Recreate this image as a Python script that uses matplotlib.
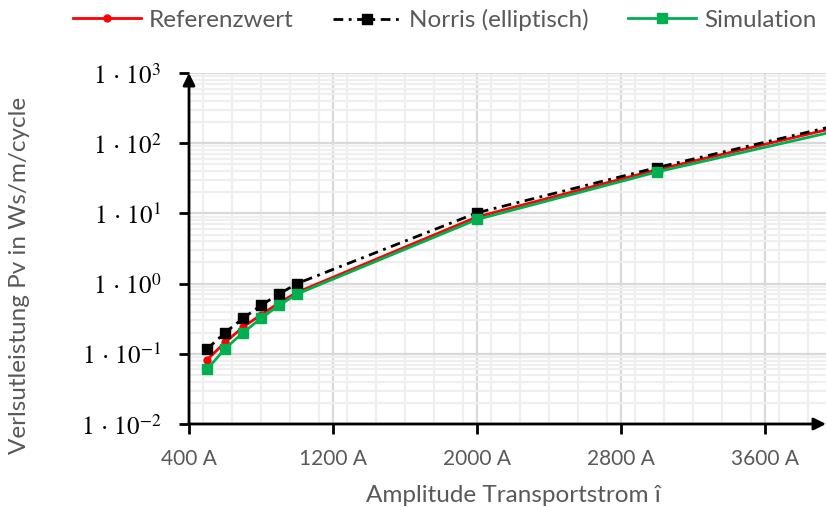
import matplotlib
matplotlib.use("Agg")
import matplotlib.pyplot as plt
from matplotlib.ticker import FixedLocator, MultipleLocator, LogLocator, NullFormatter

# Verlustleistung über Amplitude des Transportstroms
current = [500, 600, 700, 800, 900, 1000, 2000, 3000, 4000]
referenz = [0.082, 0.145, 0.24, 0.36, 0.53, 0.75, 8.9, 42, 168]
norris = [0.117, 0.20, 0.32, 0.49, 0.71, 1.0, 10.2, 45, 180]
simulation = [0.060, 0.118, 0.20, 0.32, 0.49, 0.71, 8.2, 39, 150]

x_ticks = [400, 1200, 2000, 2800, 3600]
x_ticklabels = ["400 A", "1200 A", "2000 A", "2800 A", "3600 A"]
y_ticks = [1e-2, 1e-1, 1e0, 1e1, 1e2, 1e3]
y_ticklabels = [r"$1\,\cdot\,10^{-2}$", r"$1\,\cdot\,10^{-1}$", r"$1\,\cdot\,10^{0}$",
                r"$1\,\cdot\,10^{1}$", r"$1\,\cdot\,10^{2}$", r"$1\,\cdot\,10^{3}$"]

plt.rcParams["font.family"] = "Lato"
plt.rcParams["mathtext.fontset"] = "stix"
grey = "#595959"
fs = 17.5

W, H = 827, 507
fig = plt.figure(figsize=(W / 100, H / 100), dpi=100)
ax = fig.add_axes([189 / W, 1 - 424 / H, (826 - 189) / W, (424 - 73) / H])

ax.set_yscale("log")
ax.set_xlim(400, 400 + (826 - 189) / 0.18)
ax.set_ylim(1e-2, 1e3)

# gitter
ax.xaxis.set_major_locator(FixedLocator(x_ticks))
ax.xaxis.set_minor_locator(MultipleLocator(160))
ax.yaxis.set_major_locator(FixedLocator(y_ticks))
ax.yaxis.set_minor_locator(LogLocator(base=10, subs=range(2, 10)))
ax.yaxis.set_minor_formatter(NullFormatter())
ax.grid(which="minor", color="#efefef", lw=1.6)
ax.grid(which="major", color="#d9d9d9", lw=1.6)
ax.set_axisbelow(True)

l_ref, = ax.plot(current, referenz, color="#ff0000", lw=2.0, marker="o", ms=5,
                 zorder=3)
l_nor, = ax.plot(current, norris, color="black", lw=2.0, dashes=(3.5, 2, 1, 2),
                 marker="s", ms=6.5, zorder=3)
l_sim, = ax.plot(current, simulation, color="#00b050", lw=2.0, marker="s", ms=6.5,
                 zorder=4)

ax.set_xticks(x_ticks)
ax.set_xticklabels(x_ticklabels, color=grey, fontsize=15)
ax.set_yticks(y_ticks)
ax.set_yticklabels(y_ticklabels, fontsize=18)
ax.tick_params(axis="both", which="major", direction="out", length=7, width=2,
               color="black")
ax.tick_params(axis="x", pad=11)
ax.tick_params(axis="y", pad=13)
ax.tick_params(axis="both", which="minor", length=0)

for s in ax.spines.values():
    s.set_visible(False)

# achsen mit pfeilen
arrow = dict(arrowstyle="-|>", color="black", lw=2, shrinkA=0, shrinkB=0,
             mutation_scale=18)
ax.annotate("", xy=(1, 0), xytext=(0, 0), xycoords="axes fraction",
            arrowprops=arrow, annotation_clip=False)
ax.annotate("", xy=(0, 1), xytext=(0, 0), xycoords="axes fraction",
            arrowprops=arrow, annotation_clip=False)

fig.text(513 / W, 1 - 495 / H, "Amplitude Transportstrom î", color=grey,
         fontsize=fs, ha="center", va="center")
fig.text(20 / W, 1 - 275 / H, "Verlsutleistung Pv in Ws/m/cycle", color=grey,
         fontsize=fs, ha="center", va="center", rotation=90)

# legende oben, jeder eintrag einzeln gesetzt
fs_px = fs * 100 / 72
for handle, label, x0 in [(l_ref, "Referenzwert", 73),
                          (l_nor, "Norris (elliptisch)", 333),
                          (l_sim, "Simulation", 628)]:
    fig.legend([handle], [label], loc="center left",
               bbox_to_anchor=(x0 / W, 1 - 20 / H), frameon=False, fontsize=fs,
               labelcolor=grey, borderpad=0, borderaxespad=0,
               handlelength=68 / fs_px, handletextpad=8 / fs_px)

fig.savefig("out.png", dpi=100)
